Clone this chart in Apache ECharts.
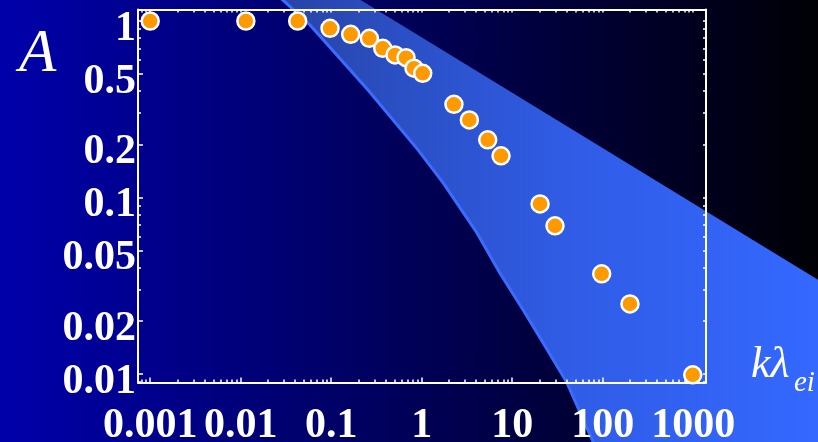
<!DOCTYPE html>
<html><head><meta charset="utf-8">
<script src="https://cdn.jsdelivr.net/npm/echarts@6/dist/echarts.min.js"></script>
<style>
html,body{margin:0;padding:0;overflow:hidden;}
#c{width:818px;height:442px;background:linear-gradient(to right,#0000ab 0%,#000005 100%);}
</style></head><body><div id="c"></div>
<script>
// measured points (k*lambda_ei, A)
const xValues = [0.001, 0.0114, 0.0426, 0.097, 0.164, 0.264, 0.371, 0.507, 0.671, 0.822, 1.026, 2.27, 3.36, 5.36, 7.52, 20.3, 29.7, 97.4, 200, 987];
const yValues = [1.0, 1.0, 1.0, 0.909, 0.841, 0.798, 0.700, 0.642, 0.620, 0.540, 0.505, 0.337, 0.275, 0.212, 0.172, 0.0919, 0.069, 0.0369, 0.0249, 0.00987];
// tick labels
const xTickValues = [0.001, 0.01, 0.1, 1, 10, 100, 1000];
const xTickLabels = ['0.001', '0.01', '0.1', '1', '10', '100', '1000'];
const yTickValues = [0.01, 0.02, 0.05, 0.1, 0.2, 0.5, 1];
const yTickLabels = ['0.01', '0.02', '0.05', '0.1', '0.2', '0.5', '1'];
// shaded band outline (lower curve, then far corner, then upper line)
const bandLowerX = [0.0256, 0.0583, 0.255, 0.910, 1.733, 4.08, 7.33, 13.2, 22.06, 40.3, 90];
const bandLowerY = [1.40, 0.949, 0.406, 0.186, 0.1204, 0.0629, 0.0372, 0.0230, 0.01493, 0.00889, 0.0035];
const bandCornerX = [32500];
const bandCornerY = [0.0035];
const bandUpperX = [32500, 0.173];
const bandUpperY = [0.031, 1.40];
// axis ranges
const xRange = [0.000733, 1384];
const yRange = [0.00893, 1.162];

const L = Math.log10;
const xMin = L(xRange[0]), xMax = L(xRange[1]);
const yMin = L(yRange[0]), yMax = L(yRange[1]);

function minorLogs(lo, hi) {
  const out = [];
  for (let d = Math.floor(lo) - 1; d <= Math.ceil(hi); d++) {
    for (let k = 1; k <= 9; k++) {
      const v = d + L(k);
      if (v >= lo && v <= hi) out.push(v);
    }
  }
  return out;
}
const xMajor = xTickValues.map(L);
const yMajor = yTickValues.map(L);
const xAll = minorLogs(xMin, xMax);
const yAll = minorLogs(yMin, yMax);
function fmt(list, labels) {
  return function (v) {
    for (let i = 0; i < list.length; i++) if (Math.abs(list[i] - v) < 1e-6) return labels[i];
    return '';
  };
}
const white = '#ffffff';
const labelFont = {color: white, fontFamily: 'Liberation Serif', fontWeight: 'bold', fontSize: 42};

function axisBase(extra) {
  return Object.assign({type: 'value', gridIndex: 0, splitLine: {show: false}, z: 3}, extra);
}
function line(show) {
  return {show: show, onZero: false, lineStyle: {color: white, width: 2}};
}

const polyX = bandLowerX.concat(bandCornerX, bandUpperX);
const polyY = bandLowerY.concat(bandCornerY, bandUpperY);

const chart = echarts.init(document.getElementById('c'), null, {renderer: 'canvas'});
chart.setOption({
  backgroundColor: 'transparent',
  animation: false,
  grid: {left: 138, right: 112, top: 9.5, bottom: 59.5, containLabel: false, outerBoundsMode: 'none'},
  xAxis: [
    axisBase({position: 'bottom', min: xMin, max: xMax, axisLine: line(true),
      axisTick: {show: true, inside: true, length: 5, customValues: xMajor, lineStyle: {color: white, width: 1.5}},
      axisLabel: Object.assign({show: true, customValues: xMajor, formatter: fmt(xMajor, xTickLabels), margin: 23, hideOverlap: false}, labelFont)}),
    axisBase({position: 'bottom', min: xMin, max: xMax, axisLine: line(false),
      axisTick: {show: true, inside: true, length: 3, customValues: xAll, lineStyle: {color: white, width: 1.5}},
      axisLabel: {show: false}}),
    axisBase({position: 'top', min: xMin, max: xMax, axisLine: line(true),
      axisTick: {show: true, inside: true, length: 3, customValues: xAll, lineStyle: {color: white, width: 1.5}},
      axisLabel: {show: false}})
  ],
  yAxis: [
    axisBase({position: 'left', min: yMin, max: yMax, axisLine: line(true),
      axisTick: {show: true, inside: true, length: 5, customValues: yMajor, lineStyle: {color: white, width: 1.5}},
      axisLabel: Object.assign({show: true, customValues: yMajor, formatter: fmt(yMajor, yTickLabels), margin: 2, verticalAlign: 'top', lineHeight: 16, hideOverlap: false}, labelFont)}),
    axisBase({position: 'left', min: yMin, max: yMax, axisLine: line(false),
      axisTick: {show: true, inside: true, length: 3, customValues: yAll, lineStyle: {color: white, width: 1.5}},
      axisLabel: {show: false}}),
    axisBase({position: 'right', min: yMin, max: yMax, axisLine: line(true),
      axisTick: {show: true, inside: true, length: 3, customValues: yAll, lineStyle: {color: white, width: 1.5}},
      axisLabel: {show: false}})
  ],
  graphic: [
    {type: 'text', left: 19, top: 24, z: 10, style: {text: 'A', fill: white, font: 'italic 61px "Liberation Serif"'}},
    {type: 'text', left: 751, top: 343, z: 10, style: {text: 'k\u03BB', fill: white, font: 'italic 44px "Liberation Serif"'}},
    {type: 'text', left: 794, top: 369, z: 10, style: {text: 'ei', fill: white, font: 'italic 29px "Liberation Serif"'}}
  ],
  series: [
    {
      type: 'custom', xAxisIndex: 0, yAxisIndex: 0, z: 1, clip: false, silent: true,
      data: [[L(0.1), L(0.1)]],
      renderItem: function (params, api) {
        const pts = polyX.map((x, i) => api.coord([L(x), L(polyY[i])]));
        const edge = bandLowerX.map((x, i) => api.coord([L(x), L(bandLowerY[i])]));
        return {type: 'group', children: [
          {type: 'polygon', shape: {points: pts}, style: {
            fill: {type: 'linear', x: 0, y: 0, x2: 818, y2: 0, global: true, colorStops: [
              {offset: 0.33, color: '#2842a4'}, {offset: 0.5, color: '#2b50c6'},
              {offset: 0.7, color: '#305ce6'}, {offset: 1, color: '#3468ff'}]}, stroke: null}},
          {type: 'polyline', shape: {points: edge}, style: {stroke: '#3a6cff', lineWidth: 3, fill: null, lineJoin: 'round'}}
        ]};
      }
    },
    {
      type: 'scatter', xAxisIndex: 0, yAxisIndex: 0, z: 5,
      data: xValues.map((x, i) => [L(x), L(yValues[i])]),
      symbol: 'circle', symbolSize: 17,
      itemStyle: {color: '#ff9900', borderColor: white, borderWidth: 2.5, opacity: 1}
    }
  ]
});
</script></body></html>
